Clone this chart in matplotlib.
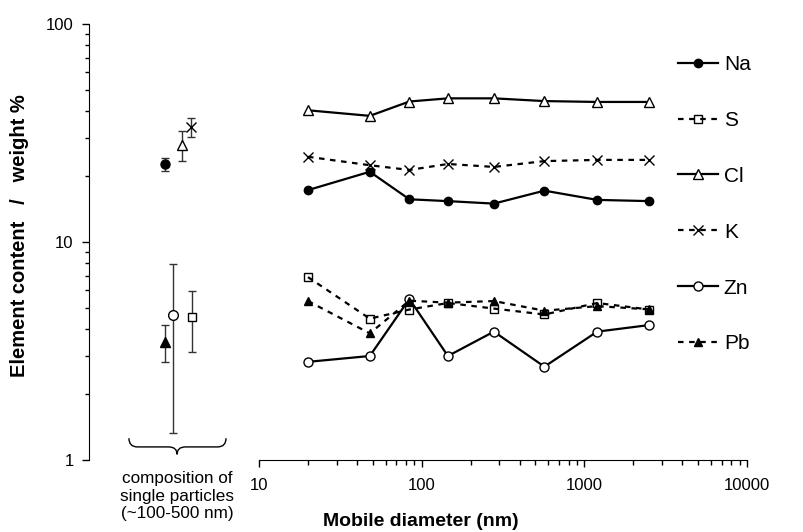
import matplotlib
matplotlib.use("Agg")
import matplotlib.pyplot as plt
from matplotlib.path import Path
from matplotlib.patches import PathPatch
from matplotlib.ticker import LogLocator, NullFormatter, FixedLocator, FixedFormatter
import matplotlib.transforms as mtransforms

plt.rcParams['font.family'] = ['Liberation Sans', 'DejaVu Sans']

# Size-resolved composition (mobile diameter, nm)
diam = [20, 48, 84, 145, 278, 568, 1200, 2510]
na = [17.3, 21.0, 15.7, 15.4, 15.0, 17.2, 15.6, 15.4]
s = [6.9, 4.45, 4.9, 5.25, 4.95, 4.65, 5.25, 4.9]
cl = [40.2, 37.9, 44.1, 45.6, 45.6, 44.3, 43.9, 43.9]
k = [24.6, 22.5, 21.4, 22.8, 22.1, 23.5, 23.8, 23.8]
zn = [2.82, 3.0, 5.48, 3.0, 3.88, 2.68, 3.88, 4.16]
pb = [5.36, 3.81, 5.38, 5.27, 5.36, 4.84, 5.08, 4.91]

# Single particle composition (mean, std)
sp_elems = ["Na", "S", "Cl", "K", "Zn", "Pb"]
sp_mean = [22.8, 4.54, 27.9, 33.8, 4.63, 3.49]
sp_err = [1.6, 1.4, 4.3, 3.4, 3.3, 0.68]

W, H = 804, 532
fig = plt.figure(figsize=(W / 100, H / 100), dpi=100)

# main axes (log x) and left axes carrying the y axis
ax = fig.add_axes([259 / W, 72 / H, 488 / W, 436 / H])
ax2 = fig.add_axes([89 / W, 72 / H, 170 / W, 436 / H])
for a in (ax, ax2):
    a.set_facecolor("none")
    a.set_yscale("log")
    a.set_ylim(1, 100)
    a.spines["top"].set_visible(False)
    a.spines["right"].set_visible(False)

# styles per element
dash = (0, (2.5, 2.5))
styles = {
    "Na": dict(ls="-", marker="o", mfc="black", ms=6),
    "S": dict(ls=dash, marker="s", mfc="none", ms=5.5),
    "Cl": dict(ls="-", marker="^", mfc="white", ms=7),
    "K": dict(ls=dash, marker="x", mfc="black", ms=6.5),
    "Zn": dict(ls="-", marker="o", mfc="white", ms=6.5),
    "Pb": dict(ls=dash, marker="^", mfc="black", ms=6),
}
series = {"Na": na, "S": s, "Cl": cl, "K": k, "Zn": zn, "Pb": pb}

for name in ["Na", "S", "Cl", "K", "Zn", "Pb"]:
    st = styles[name]
    ax.plot(diam, series[name], color="black", lw=1.6, ls=st["ls"],
            marker=st["marker"], mfc=st["mfc"], mec="black", ms=st["ms"],
            mew=1.0, label=name)

ax.set_xscale("log")
ax.set_xlim(10, 10000)
ax.spines["left"].set_visible(False)
ax.set_yticks([])
ax.yaxis.set_minor_locator(matplotlib.ticker.NullLocator())
ax.xaxis.set_major_locator(FixedLocator([10, 100, 1000, 10000]))
ax.xaxis.set_major_formatter(FixedFormatter(["10", "100", "1000", "10000"]))
ax.xaxis.set_minor_locator(LogLocator(base=10, subs=range(2, 10)))
ax.xaxis.set_minor_formatter(NullFormatter())
ax.tick_params(axis="x", which="major", length=5, width=1, labelsize=12, pad=8)
ax.tick_params(axis="x", which="minor", length=3.5, width=1)

# left axes: single particle points
sp_pos = {"Na": 0.447, "Pb": 0.447, "Zn": 0.492, "Cl": 0.545, "K": 0.60, "S": 0.604}
ax2.set_xlim(0, 1)
ax2.spines["bottom"].set_visible(False)
ax2.set_xticks([])
for name, m, e in zip(sp_elems, sp_mean, sp_err):
    st = styles[name]
    ax2.errorbar([sp_pos[name]], [m], yerr=[e], fmt="none", ecolor="#333333",
                 elinewidth=1.0, capsize=3, capthick=1.0, zorder=1)
    ax2.plot([sp_pos[name]], [m], ls="none", marker=st["marker"],
             mfc=st["mfc"] if st["mfc"] != "none" else "white", mec="black",
             ms=st["ms"] + 0.5, mew=1.0, zorder=3)

ax2.yaxis.set_major_locator(FixedLocator([1, 10, 100]))
ax2.yaxis.set_major_formatter(FixedFormatter(["1", "10", "100"]))
ax2.yaxis.set_minor_locator(LogLocator(base=10, subs=range(2, 10)))
ax2.yaxis.set_minor_formatter(NullFormatter())
ax2.tick_params(axis="y", which="major", length=5, width=1, labelsize=12, pad=6)
ax2.tick_params(axis="y", which="minor", length=3, width=1)

# curly brace under the single particle points
tr = mtransforms.blended_transform_factory(ax2.transAxes, ax2.transAxes)
x0, x1, xm = 0.235, 0.806, 0.518
yt, ymid, yb = 0.050, 0.030, 0.013
verts = [(x0, yt), (x0, ymid), (x0 + 0.05, ymid),
         (xm - 0.05, ymid), (xm, ymid), (xm, yb),
         (xm, ymid), (xm + 0.05, ymid),
         (x1 - 0.05, ymid), (x1, ymid), (x1, yt)]
codes = [Path.MOVETO, Path.CURVE3, Path.CURVE3,
         Path.LINETO, Path.CURVE3, Path.CURVE3,
         Path.CURVE3, Path.CURVE3,
         Path.LINETO, Path.CURVE3, Path.CURVE3]
ax2.add_patch(PathPatch(Path(verts, codes), fc="none", ec="black", lw=1.0,
                        transform=tr, clip_on=False))

fig.text(177 / W, 1 - 496 / H, "composition of\nsingle particles\n(~100-500 nm)",
         ha="center", va="center", fontsize=12.3, linespacing=1.2)

fig.text(421 / W, 1 - 521 / H, "Mobile diameter (nm)", ha="center", va="center",
         fontsize=14, fontweight="bold")
fig.text(20 / W, 1 - 236 / H, "Element content   /   weight %", ha="center",
         va="center", rotation=90, fontsize=14.5, fontweight="bold")

leg = ax.legend(loc="upper left", bbox_to_anchor=(678 / W, 1 - 55 / H),
                bbox_transform=fig.transFigure, frameon=False, fontsize=15,
                handlelength=1.9, handletextpad=0.3, labelspacing=1.77,
                borderpad=0, borderaxespad=0)

fig.savefig("out.png", dpi=100)
